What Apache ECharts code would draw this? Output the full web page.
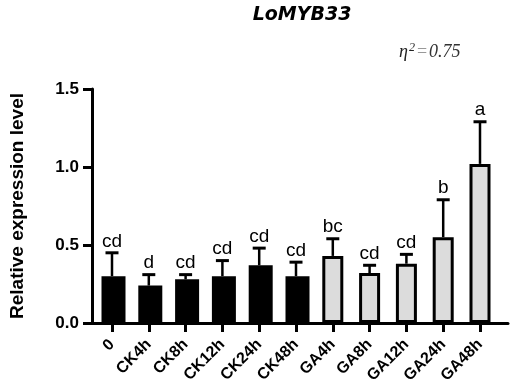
<!DOCTYPE html>
<html>
<head>
<meta charset="utf-8">
<script src="https://cdn.jsdelivr.net/npm/echarts@6/dist/echarts.min.js"></script>
<style>
  html, body { margin: 0; padding: 0; background: #fff; }
  #chart { width: 510px; height: 390px; }
</style>
</head>
<body>
<div id="chart"></div>
<script>
// data
var categories = ['0', 'CK4h', 'CK8h', 'CK12h', 'CK24h', 'CK48h', 'GA4h', 'GA8h', 'GA12h', 'GA24h', 'GA48h'];
var means = [0.30, 0.24, 0.28, 0.30, 0.37, 0.30, 0.43, 0.32, 0.38, 0.55, 1.02];
var errors = [0.15, 0.07, 0.03, 0.10, 0.11, 0.09, 0.11, 0.05, 0.06, 0.24, 0.27];
var letters = ['cd', 'd', 'cd', 'cd', 'cd', 'cd', 'bc', 'cd', 'cd', 'b', 'a'];
var isGA = [false, false, false, false, false, false, true, true, true, true, true];
var yMin = 0, yMax = 1.5, yStep = 0.5;

var chart = echarts.init(document.getElementById('chart'));

var ckData = means.map(function (v, i) { return isGA[i] ? '-' : v; });
var gaData = means.map(function (v, i) { return isGA[i] ? v : '-'; });
var errData = means.map(function (v, i) { return [i, v, v + errors[i]]; });

var gridTop = 89, gridBottom = 67;
var serif = { fontFamily: 'Liberation Serif', fontStyle: 'italic', fontWeight: 'normal' };

chart.setOption({
  animation: false,
  title: [{
    text: 'LoMYB33',
    left: 297,
    textAlign: 'center',
    top: 1,
    textStyle: { fontFamily: 'DejaVu Sans', fontSize: 19, fontWeight: 'bold', fontStyle: 'italic', color: '#000' }
  }, {
    text: '{e|η}{s|2}{q|=}{v|0.75}',
    left: 394,
    top: 37,
    textStyle: {
      fontWeight: 'normal',
      rich: {
        e: Object.assign({ fontSize: 18, color: '#222' }, serif),
        s: Object.assign({ fontSize: 12, color: '#222', verticalAlign: 'top', padding: [0, 2, 9, 1] }, serif),
        q: { fontFamily: 'Liberation Serif', fontWeight: 'normal', fontSize: 18, color: '#999', padding: [0, 2, 0, 0] },
        v: Object.assign({ fontSize: 18, color: '#333' }, serif)
      }
    }
  }],
  grid: [
    { left: 86, right: 2, top: gridTop, bottom: gridBottom },
    { left: 93.6, right: 11.6, top: gridTop, bottom: gridBottom }
  ],
  xAxis: [{
    gridIndex: 0,
    type: 'value',
    min: 0, max: 1,
    axisLine: { show: true, onZero: false, lineStyle: { color: '#000', width: 3 } },
    axisTick: { show: false },
    axisLabel: { show: false },
    splitLine: { show: false }
  }, {
    gridIndex: 1,
    type: 'category',
    data: categories,
    axisLine: { show: false },
    axisTick: { show: true, alignWithLabel: true, length: 9, lineStyle: { color: '#000', width: 3 } },
    axisLabel: {
      rotate: 45, interval: 0, margin: 19,
      fontFamily: 'Liberation Sans', fontSize: 16, fontWeight: 'bold', color: '#000'
    }
  }],
  yAxis: [{
    gridIndex: 0,
    type: 'value',
    min: yMin, max: yMax, interval: yStep,
    name: 'Relative expression level',
    nameLocation: 'middle',
    nameRotate: 90,
    nameGap: 65,
    nameTextStyle: { fontFamily: 'Liberation Sans', fontSize: 19, fontWeight: 'bold', color: '#000' },
    axisLine: { show: true, lineStyle: { color: '#000', width: 3 } },
    axisTick: { show: true, length: 9, lineStyle: { color: '#000', width: 3 } },
    axisLabel: {
      margin: 13,
      fontFamily: 'Liberation Sans', fontSize: 17, fontWeight: 'bold', color: '#000',
      formatter: function (v) { return v.toFixed(1); }
    },
    splitLine: { show: false }
  }, {
    gridIndex: 1,
    type: 'value',
    min: yMin, max: yMax, interval: yStep,
    show: false
  }],
  series: [{
    type: 'custom',
    xAxisIndex: 1, yAxisIndex: 1,
    data: errData,
    z: 1,
    renderItem: function (params, api) {
      var base = api.coord([api.value(0), api.value(1)]);
      var hi = api.coord([api.value(0), api.value(2)]);
      var half = 6.5;
      return {
        type: 'group',
        children: [{
          type: 'line',
          shape: { x1: base[0], y1: base[1], x2: hi[0], y2: hi[1] },
          style: { stroke: '#000', lineWidth: 2.5 }
        }, {
          type: 'line',
          shape: { x1: hi[0] - half, y1: hi[1], x2: hi[0] + half, y2: hi[1] },
          style: { stroke: '#000', lineWidth: 3 }
        }, {
          type: 'text',
          style: {
            x: hi[0], y: hi[1] - 2,
            text: letters[params.dataIndex],
            textAlign: 'center', textVerticalAlign: 'bottom',
            font: '19px "Liberation Sans"', fill: '#000'
          }
        }]
      };
    }
  }, {
    type: 'bar',
    xAxisIndex: 1, yAxisIndex: 1,
    data: ckData,
    barWidth: 24,
    barGap: '-100%',
    z: 3,
    itemStyle: { color: '#000' }
  }, {
    type: 'bar',
    xAxisIndex: 1, yAxisIndex: 1,
    data: gaData,
    barWidth: 21,
    barGap: '-100%',
    z: 3,
    itemStyle: { color: '#dcdcdc', borderColor: '#000', borderWidth: 3 }
  }]
});
</script>
</body>
</html>
